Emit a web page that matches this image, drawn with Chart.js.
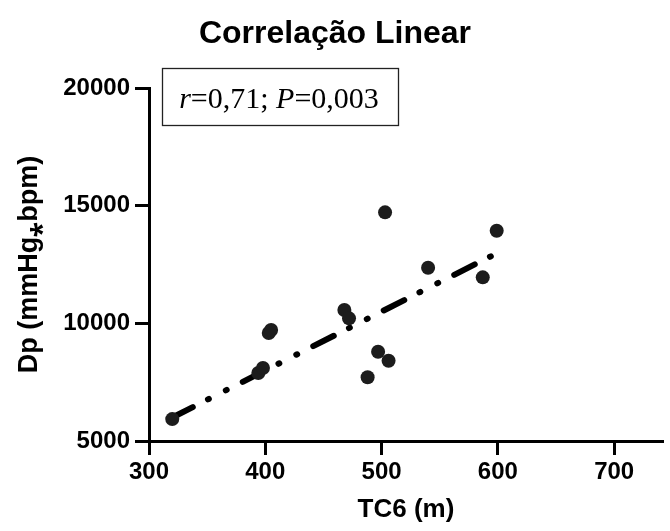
<!DOCTYPE html>
<html>
<head>
<meta charset="utf-8">
<script src="https://cdn.jsdelivr.net/npm/chart.js@4"></script>
<style>
  html, body { margin: 0; padding: 0; background: #fff; overflow: hidden; }
  #wrap { width: 670px; height: 531px; position: relative; }
</style>
</head>
<body>
<div id="wrap"><canvas id="c" width="670" height="531"></canvas></div>
<script>
// ---- data ----
const tc6 = [320, 394, 398, 403, 405, 468, 472, 488, 497, 503, 506, 540, 587, 599];
const dp  = [5930, 7890, 8100, 9590, 9715, 10565, 10212, 7706, 8794, 14715, 8411, 12362, 11954, 13934];
const fitX = [320, 600];
const fitY = [6000, 13000];
const xTicks = [300, 400, 500, 600, 700];
const yTicks = [5000, 10000, 15000, 20000];
const titleText = 'Correlação Linear';
const xTitle = 'TC6 (m)';
const yTitle = 'Dp (mmHg\u204Ebpm)';
const statParts = [['r', true], ['=0,71; ', false], ['P', true], ['=0,003', false]];

const SANS = '"Liberation Sans", Arial, sans-serif';
const SERIF = '"Liberation Serif", "Times New Roman", serif';

const points = tc6.map((x, i) => ({ x: x, y: dp[i] }));
const fit = fitX.map((x, i) => ({ x: x, y: fitY[i] }));

const statBox = {
  id: 'statBox',
  afterDraw(chart) {
    const ctx = chart.ctx;
    ctx.save();
    ctx.strokeStyle = '#222';
    ctx.lineWidth = 1.3;
    ctx.strokeRect(162.5, 68.5, 236, 57);
    let total = 0;
    const fonts = statParts.map(p => (p[1] ? 'italic ' : '') + '30px ' + SERIF);
    statParts.forEach((p, i) => { ctx.font = fonts[i]; total += ctx.measureText(p[0]).width; });
    let x = 279 - total / 2;
    ctx.fillStyle = '#000';
    ctx.textBaseline = 'alphabetic';
    statParts.forEach((p, i) => {
      ctx.font = fonts[i];
      ctx.fillText(p[0], x, 108);
      x += ctx.measureText(p[0]).width;
    });
    ctx.restore();
  }
};

new Chart(document.getElementById('c'), {
  type: 'scatter',
  data: {
    datasets: [
      {
        type: 'line',
        data: fit,
        borderColor: '#000',
        borderWidth: 6,
        borderDash: [23, 17, 1, 19, 1, 18],
        borderCapStyle: 'round',
        pointRadius: 0,
        fill: false,
        order: 2
      },
      {
        data: points,
        backgroundColor: '#1c1c1c',
        borderWidth: 0,
        pointRadius: 7,
        pointHoverRadius: 7,
        order: 1
      }
    ]
  },
  options: {
    responsive: false,
    animation: false,
    layout: { padding: { left: 0, right: 0, top: 0, bottom: 0 } },
    plugins: {
      legend: { display: false },
      tooltip: { enabled: false },
      title: {
        display: true,
        text: titleText,
        color: '#000',
        font: { family: SANS, size: 32, weight: 'bold', lineHeight: 1.2 },
        padding: { top: 15, bottom: 34.6 }
      }
    },
    scales: {
      x: {
        type: 'linear',
        min: 300,
        max: 742,
        afterBuildTicks(axis) { axis.ticks = xTicks.map(v => ({ value: v })); },
        afterFit(axis) { axis.height = 90; },
        ticks: {
          color: '#000',
          padding: 3,
          font: { family: SANS, size: 24, weight: 'bold' },
          callback: v => String(v)
        },
        grid: {
          display: true,
          drawOnChartArea: false,
          drawTicks: true,
          tickLength: 14,
          tickWidth: 3,
          tickColor: '#000'
        },
        border: { display: true, color: '#000', width: 3 },
        title: {
          display: true,
          text: xTitle,
          color: '#000',
          font: { family: SANS, size: 26, weight: 'bold', lineHeight: 1.2 },
          padding: { top: 0, bottom: 6 }
        }
      },
      y: {
        type: 'linear',
        min: 5000,
        max: 20000,
        afterBuildTicks(axis) { axis.ticks = yTicks.map(v => ({ value: v })); },
        afterFit(axis) { axis.width = 149; },
        ticks: {
          color: '#000',
          padding: 5,
          font: { family: SANS, size: 24, weight: 'bold' },
          callback: v => String(v)
        },
        grid: {
          display: true,
          drawOnChartArea: false,
          drawTicks: true,
          tickLength: 14,
          tickWidth: 3,
          tickColor: '#000'
        },
        border: { display: true, color: '#000', width: 3 },
        title: {
          display: true,
          text: yTitle,
          color: '#000',
          font: { family: SANS, size: 27, weight: 'bold', lineHeight: 1.2 },
          padding: { top: 13, bottom: 0 }
        }
      }
    }
  },
  plugins: [statBox]
});
</script>
</body>
</html>
